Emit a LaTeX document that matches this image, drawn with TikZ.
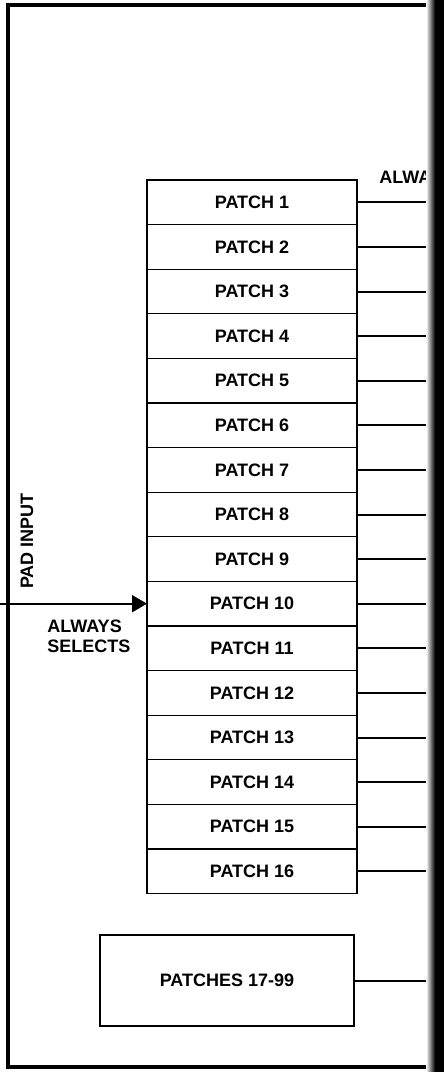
\documentclass[tikz,border=0pt]{standalone}
\usepackage{fontspec}
\setmainfont{Liberation Sans}
\usetikzlibrary{positioning,arrows.meta}

\begin{document}
\begin{tikzpicture}[
		x=0.5pt, y=-0.5pt,
		every node/.style={font=\fontsize{9}{10}\selectfont\bfseries},
		patch/.style={draw, line width=0.65pt, minimum width=105pt, minimum height=22.3pt, inner sep=0pt, outer sep=0pt},
		bus/.style={line width=1pt},
		frame/.style={line width=2pt},
		]
		\useasboundingbox (0,0) rectangle (444,1072);
		\coordinate (edge) at (444,0);
		% outer frame
		\draw[frame] (444,5) -- (8,5) -- (8,1067) -- (444,1067);
		% patch stack
		\node[patch] (p1) at (252,202.3) {PATCH 1};
		\foreach \k [evaluate=\k as \prev using int(\k-1)] in {2,...,16}
			\node[patch, below=0pt of p\prev] (p\k) {PATCH \k};
		\foreach \k in {1,...,16}
			\draw[bus] (p\k.east) -- (p\k.east -| edge);
		\node[patch, minimum width=127pt, minimum height=45.5pt] (prest) at (227,980.5) {PATCHES 17-99};
		\draw[bus] (prest.east) -- (prest.east -| edge);
		% pad input
		\coordinate (pad) at (p10.west -| 0,0);
		\draw[bus, -{Triangle[length=7.5pt, width=8.5pt]}] (pad) -- (p10.west);
		\node[rotate=90] (padlbl) at (27,541) {PAD INPUT};
		\node[align=left, anchor=west, inner sep=0pt] (sel) at (47,636) {ALWAYS\\SELECTS};
		\node[anchor=base west, inner sep=0pt] (always) at (379,183) {ALWAYS};
		% page shadow
		\shade[left color=white, right color=black] (426,0) rectangle (435,1072);
		\fill[black] (435,0) rectangle (444,1072);
	\end{tikzpicture}
\end{document}
